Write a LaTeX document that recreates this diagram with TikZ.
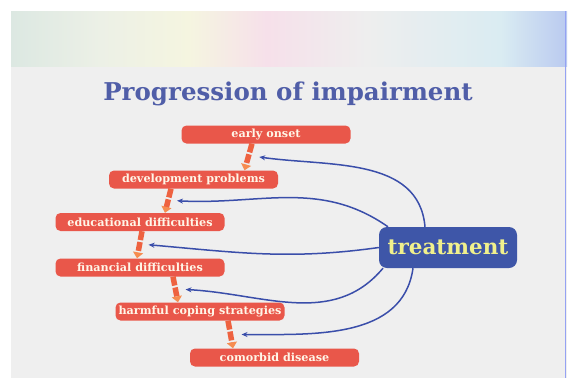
\documentclass[tikz,border=0pt]{standalone}
\usepackage{fontspec}
\setmainfont{DejaVu Serif}
\usepackage{xcolor}
\usepackage{tikz}
\usetikzlibrary{shapes.geometric}
\usetikzlibrary{arrows.meta}
\usetikzlibrary{positioning}

\definecolor{slidegray}{RGB}{239,239,239}
\definecolor{boxred}{RGB}{233,87,74}
\definecolor{boxtext}{RGB}{255,246,232}
\definecolor{treatblue}{RGB}{62,86,168}
\definecolor{treattext}{RGB}{240,240,140}
\definecolor{titleblue}{RGB}{80,94,168}
\definecolor{curveblue}{RGB}{58,78,170}
\definecolor{stepred}{RGB}{238,98,64}
\definecolor{steptip}{RGB}{246,140,80}
\definecolor{bandA}{RGB}{220,232,226}
\definecolor{bandB}{RGB}{236,240,230}
\definecolor{bandC}{RGB}{245,245,224}
\definecolor{bandD}{RGB}{246,224,234}
\definecolor{bandE}{RGB}{238,238,238}
\definecolor{bandF}{RGB}{218,236,242}
\definecolor{bandG}{RGB}{186,202,240}

\pgfdeclarehorizontalshading{band}{100bp}{color(0bp)=(bandA); color(25bp)=(bandA);
  color(33bp)=(bandB); color(41bp)=(bandC); color(48bp)=(bandD); color(57bp)=(bandE);
  color(69bp)=(bandF); color(75bp)=(bandG); color(100bp)=(bandG)}

\tikzset{
  stage/.style={rectangle, rounded corners=5pt, fill=boxred, text=boxtext,
    font=\bfseries\fontsize{11.2}{13}\selectfont, minimum width=169pt,
    minimum height=18pt, inner sep=0pt},
  treatbox/.style={rectangle, rounded corners=8pt, fill=treatblue, text=treattext,
    font=\bfseries\fontsize{21.5}{24}\selectfont, minimum width=138pt,
    minimum height=41pt, inner sep=0pt},
  stepline/.style={line width=5.5pt, stepred, dash pattern=on 9pt off 2pt,
    -{Triangle[width=10pt,length=6pt,color=steptip]}},
  cure/.style={line width=1.5pt, curveblue, -{Stealth[length=6pt,width=5pt]}}
}

\begin{document}
\begin{tikzpicture}[x=1pt, y=-1pt]
        \useasboundingbox (0, 0) rectangle (568, 378);
        \fill[white] (0, 0) rectangle (568, 378);
        \fill[slidegray] (11, 11) rectangle (567, 378);
        \shade[shading=band] (11, 11) rectangle (567, 66);
        \draw[bandG!80!blue, line width=1.5pt] (565.5, 11) -- (565.5, 378);

        \node[text=titleblue, font=\bfseries\fontsize{24.5}{29}\selectfont] (ttl) at (288, 94) {Progression of impairment};

        \node[stage] (e1) at (266, 134.5) {early onset};
        \node[stage] (e2) at (193.5, 179.5) {development problems};
        \node[stage] (e3) at (140, 222) {educational difficulties};
        \node[stage] (e4) at (140, 267.5) {financial difficulties};
        \node[stage] (e5) at (200, 311.5) {harmful coping strategies};
        \node[stage] (e6) at (274.5, 357.5) {comorbid disease};

        \node[treatbox] (tr) at (448, 247.5) {treatment};

        \draw[stepline] ([xshift=-14pt]e1.south) -- coordinate (m1) ([xshift=51pt]e2.north);
        \draw[stepline] ([xshift=-22.5pt]e2.south) -- coordinate (m2) ([xshift=25pt]e3.north);
        \draw[stepline] ([xshift=2pt]e3.south) -- coordinate (m3) ([xshift=-3pt]e4.north);
        \draw[stepline] ([xshift=33pt]e4.south) -- coordinate (m4) ([xshift=-22pt]e5.north);
        \draw[stepline] ([xshift=28pt]e5.south) -- coordinate (m5) ([xshift=-41.5pt]e6.north);

        \draw[cure] ([xshift=-23pt]tr.north) to[out=95, in=-8] ([xshift=11pt]m1);
        \draw[cure] ([xshift=-60pt]tr.north) to[out=145, in=-3] ([xshift=9pt]m2);
        \draw[cure] (tr.west) to[out=188, in=-5] ([xshift=9pt]m3);
        \draw[cure] ([xshift=-65pt]tr.south) to[out=230, in=-3] ([xshift=10pt]m4);
        \draw[cure] ([xshift=-35pt]tr.south) to[out=262, in=0] ([xshift=11pt]m5);
\end{tikzpicture}
\end{document}
